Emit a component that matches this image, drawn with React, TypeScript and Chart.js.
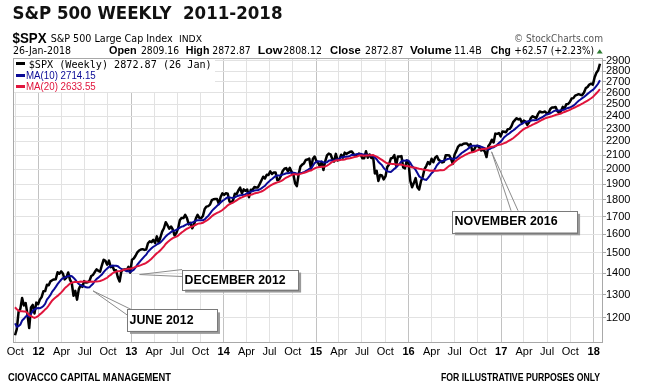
import React, { useEffect, useRef } from 'react';
import { Chart, registerables } from 'chart.js';

Chart.register(...registerables);

// ---- Weekly closes of $SPX (Friday of each week) ----
// 2011 starts early (May 20) only so the 10/20-week averages exist at the left edge.
const spx2011Start = '2011-05-20';
const spx2011 = [
  1333, 1331, 1300, 1271, 1271, 1268, 1340, 1344, 1316, 1345, 1292, 1199, 1178, 1123, 1177, 1174, 1154, 1216, 1136,
  1131, 1155, 1225, 1238, 1285, 1253, 1263, 1216, 1159, 1244, 1255, 1219, 1265, 1258,
];
const spx2012Start = '2012-01-06';
const spx2012 = [
  1278, 1289, 1315, 1316, 1345, 1343, 1361, 1366, 1370, 1371, 1404, 1397, 1408,
  1398, 1370, 1378, 1403, 1369, 1353, 1295, 1317, 1278, 1325, 1343, 1335, 1362,
  1355, 1357, 1363, 1386, 1391, 1405, 1418, 1411, 1407, 1438, 1466, 1460, 1441,
  1461, 1429, 1433, 1412, 1414, 1380, 1360, 1409, 1416, 1418, 1413, 1430, 1402,
];
const spx2013Start = '2013-01-04';
const spx2013 = [
  1466, 1472, 1486, 1503, 1513, 1518, 1520, 1516, 1518, 1551, 1561, 1557, 1569,
  1553, 1588, 1555, 1582, 1614, 1633, 1667, 1650, 1631, 1643, 1626, 1593, 1606,
  1632, 1680, 1692, 1691, 1710, 1691, 1655, 1664, 1633, 1655, 1688, 1710, 1692,
  1691, 1703, 1745, 1759, 1762, 1771, 1798, 1804, 1806, 1805, 1775, 1818, 1841,
];
const spx2014Start = '2014-01-03';
const spx2014 = [
  1831, 1842, 1839, 1790, 1783, 1797, 1838, 1836, 1859, 1878, 1841, 1866, 1857,
  1865, 1816, 1864, 1863, 1881, 1878, 1878, 1900, 1924, 1949, 1937, 1963, 1961,
  1985, 1968, 1978, 1978, 1925, 1931, 1955, 1988, 2003, 2008, 1985, 2010, 1982,
  1968, 1906, 1887, 1965, 2018, 2032, 2040, 2064, 2068, 2075, 2003, 2071, 2089,
];
const spx2015Start = '2015-01-02';
const spx2015 = [
  2058, 2045, 2019, 2051, 1995, 2055, 2097, 2110, 2105, 2071, 2053, 2108, 2061,
  2067, 2102, 2081, 2117, 2108, 2116, 2123, 2126, 2107, 2092, 2094, 2110, 2102,
  2076, 2077, 2127, 2080, 2104, 2078, 2092, 1971, 1989, 1921, 1961, 1958, 1931,
  1951, 2015, 2033, 2075, 2079, 2099, 2023, 2089, 2090, 2092, 2012, 2006, 2061, 2044,
];
const spx2016Start = '2016-01-08';
const spx2016 = [
  1922, 1880, 1907, 1940, 1880, 1865, 1918, 1948, 2000, 2022, 2050, 2035,
  2073, 2048, 2081, 2092, 2065, 2057, 2047, 2052, 2099, 2099, 2096, 2071, 2037,
  2103, 2130, 2162, 2175, 2174, 2183, 2184, 2184, 2169, 2180, 2128, 2139, 2165, 2168,
  2153, 2133, 2141, 2126, 2085, 2164, 2182, 2213, 2192, 2260, 2258, 2264, 2239,
];
const spx2017Start = '2017-01-06';
const spx2017 = [
  2277, 2275, 2271, 2295, 2297, 2316, 2351, 2367, 2383, 2373, 2378, 2344, 2363,
  2356, 2329, 2349, 2384, 2399, 2391, 2382, 2416, 2439, 2432, 2433, 2438, 2423,
  2425, 2459, 2473, 2472, 2477, 2441, 2426, 2443, 2477, 2461, 2500, 2502, 2519,
  2549, 2553, 2575, 2581, 2588, 2582, 2579, 2602, 2642, 2652, 2675, 2683, 2674,
];
const spx2018Start = '2018-01-05';
const spx2018 = [2743, 2786, 2810, 2873];

const visibleFrom = '2011-09-30';

// ---- Axis ticks ----
const yTickValues = [1200, 1300, 1400, 1500, 1600, 1700, 1800, 1900, 2000, 2100, 2200, 2300, 2400, 2500, 2600, 2700, 2800, 2900];
const xTickDates = [
  '2011-10-01',
  '2012-01-01', '2012-04-01', '2012-07-01', '2012-10-01',
  '2013-01-01', '2013-04-01', '2013-07-01', '2013-10-01',
  '2014-01-01', '2014-04-01', '2014-07-01', '2014-10-01',
  '2015-01-01', '2015-04-01', '2015-07-01', '2015-10-01',
  '2016-01-01', '2016-04-01', '2016-07-01', '2016-10-01',
  '2017-01-01', '2017-04-01', '2017-07-01', '2017-10-01',
  '2018-01-01',
];
const xTickLabels = [
  'Oct',
  '12', 'Apr', 'Jul', 'Oct',
  '13', 'Apr', 'Jul', 'Oct',
  '14', 'Apr', 'Jul', 'Oct',
  '15', 'Apr', 'Jul', 'Oct',
  '16', 'Apr', 'Jul', 'Oct',
  '17', 'Apr', 'Jul', 'Oct',
  '18',
];

// ---- Callout annotations (tip anchored to data, box offsets in px) ----
const callouts = [
  { text: 'JUNE 2012', tipDate: '2012-08-03', tipValue: 1317, box: [34, 18.5, 90, 21.5], legs: [[38, 18.5], [34, 24]], textW: 64 },
  { text: 'DECEMBER 2012', tipDate: '2013-02-03', tipValue: 1393, box: [42.5, -5, 116, 20], legs: [[42.5, -5], [42.5, 2]], textW: 101 },
  { text: 'NOVEMBER 2016', tipDate: '2016-11-24', tipValue: 2123, box: [-39.5, 59, 125, 21.5], legs: [[19.5, 59], [26.5, 59]], textW: 103 },
];

const DAY = 86400000;
const dayNum = (s: string) => {
  const [y, m, d] = s.split('-').map(Number);
  return Date.UTC(y, m - 1, d) / DAY;
};

function buildSeries() {
  const blocks: [string, number[]][] = [
    [spx2011Start, spx2011], [spx2012Start, spx2012], [spx2013Start, spx2013], [spx2014Start, spx2014],
    [spx2015Start, spx2015], [spx2016Start, spx2016], [spx2017Start, spx2017], [spx2018Start, spx2018],
  ];
  const xs: number[] = [];
  const cs: number[] = [];
  blocks.forEach(([start, arr]) => {
    const s = dayNum(start);
    arr.forEach((v, i) => { xs.push(s + 7 * i); cs.push(v); });
  });
  const movingAvg = (n: number) => cs.map((_, i) => {
    if (i < n - 1) return null;
    let sum = 0;
    for (let k = i - n + 1; k <= i; k++) sum += cs[k];
    return sum / n;
  });
  const ma10 = movingAvg(10);
  const ma20 = movingAvg(20);
  const from = dayNum(visibleFrom);
  const price: { x: number; y: number }[] = [];
  const m10: { x: number; y: number }[] = [];
  const m20: { x: number; y: number }[] = [];
  xs.forEach((x, i) => {
    if (x < from) return;
    price.push({ x, y: cs[i] });
    m10.push({ x, y: ma10[i] as number });
    m20.push({ x, y: ma20[i] as number });
  });
  return { price, m10, m20 };
}

function fitText(ctx: CanvasRenderingContext2D, text: string, x: number, y: number, w: number, font: string, color: string) {
  ctx.save();
  ctx.font = font;
  ctx.fillStyle = color;
  ctx.textAlign = 'left';
  ctx.textBaseline = 'alphabetic';
  const m = ctx.measureText(text).width || 1;
  ctx.translate(x, y);
  ctx.scale(w / m, 1);
  ctx.fillText(text, 0, 0);
  ctx.restore();
}

const SANS = '"Liberation Sans", Arial, sans-serif';
const DJ = '"DejaVu Sans", sans-serif';

const decorPlugin = {
  id: 'decor',
  beforeDraw(chart: any) {
    const ctx = chart.ctx;
    ctx.save();
    ctx.fillStyle = '#ffffff';
    ctx.fillRect(0, 0, chart.width, chart.height);
    ctx.restore();
  },
  afterDraw(chart: any) {
    const ctx: CanvasRenderingContext2D = chart.ctx;
    const a = chart.chartArea;
    const xs = chart.scales.x;
    const ys = chart.scales.y;

    // Title
    fitText(ctx, 'S&P 500 WEEKLY  2011-2018', 12.5, 18.5, 270, `bold 17px ${DJ}`, '#111');
    // Symbol line
    fitText(ctx, '$SPX', 12.5, 43.3, 34, `bold 14px ${SANS}`, '#000');
    fitText(ctx, 'S&P 500 Large Cap Index', 50.7, 42, 122, `10px ${DJ}`, '#000');
    fitText(ctx, 'INDX', 179, 42, 23, `9px ${DJ}`, '#000');
    fitText(ctx, '© StockCharts.com', 514, 41.5, 89, `11px ${DJ}`, '#555');
    // Quote line
    fitText(ctx, '26-Jan-2018', 13, 54.3, 58, `10px ${DJ}`, '#000');
    const q: [string, number, number, boolean][] = [
      ['Open', 109, 27.7, true], ['2809.16', 141, 38, false],
      ['High', 185.7, 23.7, true], ['2872.87', 212.3, 38.4, false],
      ['Low', 257.7, 24.6, true], ['2808.12', 283.3, 38.5, false],
      ['Close', 330, 30.7, true], ['2872.87', 365, 38.3, false],
      ['Volume', 410, 41.7, true], ['11.4B', 454, 27.7, false],
      ['Chg', 490.7, 20, true], ['+62.57 (+2.23%)', 514.3, 79.7, false],
    ];
    q.forEach(([t, x, w, b]) => fitText(ctx, t, x, 54.3, w, b ? `bold 11px ${SANS}` : `10px ${DJ}`, '#000'));
    // green up triangle
    ctx.save();
    ctx.fillStyle = '#2e7d32';
    ctx.beginPath();
    ctx.moveTo(596.7, 53.5);
    ctx.lineTo(602.7, 53.5);
    ctx.lineTo(599.7, 49.3);
    ctx.closePath();
    ctx.fill();
    ctx.restore();

    // Legend box
    ctx.save();
    ctx.fillStyle = '#ffffff';
    ctx.fillRect(a.left, a.top, 202, 34);
    ctx.lineWidth = 3;
    ctx.strokeStyle = '#000';
    ctx.beginPath(); ctx.moveTo(16, 63.5); ctx.lineTo(25, 63.5); ctx.stroke();
    ctx.strokeStyle = '#0a0a96';
    ctx.beginPath(); ctx.moveTo(16, 75.5); ctx.lineTo(25, 75.5); ctx.stroke();
    ctx.strokeStyle = '#e0143c';
    ctx.beginPath(); ctx.moveTo(16, 86.5); ctx.lineTo(25, 86.5); ctx.stroke();
    ctx.restore();
    fitText(ctx, '$SPX (Weekly) 2872.87 (26 Jan)', 28.7, 67.5, 183, `10px "DejaVu Sans Mono", monospace`, '#000');
    fitText(ctx, 'MA(10) 2714.15', 26, 79, 69.7, `10px ${SANS}`, '#0a0a96');
    fitText(ctx, 'MA(20) 2633.55', 26, 90, 69.7, `10px ${SANS}`, '#e0143c');

    // Plot border
    ctx.save();
    ctx.strokeStyle = '#a8a8a8';
    ctx.lineWidth = 1;
    ctx.strokeRect(Math.round(a.left) + 0.5, Math.round(a.top) + 0.5, Math.round(a.right - a.left) - 1, Math.round(a.bottom - a.top));
    ctx.restore();

    // Callouts
    callouts.forEach((c) => {
      const tx = xs.getPixelForValue(dayNum(c.tipDate));
      const ty = ys.getPixelForValue(c.tipValue);
      const [bx, by, bw, bh] = c.box;
      const L = tx + bx;
      const T = ty + by;
      ctx.save();
      ctx.strokeStyle = '#8c8c8c';
      ctx.lineWidth = 1;
      c.legs.forEach(([lx, ly]) => {
        ctx.beginPath();
        ctx.moveTo(tx, ty);
        ctx.lineTo(tx + lx, ty + ly);
        ctx.stroke();
      });
      ctx.fillStyle = '#9a9a9a';
      ctx.fillRect(L + 3, T + 3, bw, bh);
      ctx.fillStyle = '#ffffff';
      ctx.fillRect(L, T, bw, bh);
      ctx.strokeStyle = '#7a7a7a';
      ctx.strokeRect(Math.round(L) + 0.5, Math.round(T) + 0.5, Math.round(bw), Math.round(bh));
      ctx.restore();
      fitText(ctx, c.text, L + 2.5, T + 14.3, c.textW, `bold 13px ${SANS}`, '#000');
    });

    // Footer
    fitText(ctx, 'CIOVACCO CAPITAL MANAGEMENT', 8, 381, 163, `bold 10px ${SANS}`, '#000');
    fitText(ctx, 'FOR ILLUSTRATIVE PURPOSES ONLY', 441, 381, 159, `bold 10px ${SANS}`, '#000');
  },
};

export default function App() {
  const ref = useRef<HTMLCanvasElement | null>(null);

  useEffect(() => {
    if (!ref.current) return;
    const { price, m10, m20 } = buildSeries();
    const xTickVals = xTickDates.map(dayNum);
    const isYear = (i: number) => /^\d+$/.test(xTickLabels[i] || '');

    const chart = new Chart(ref.current, {
      type: 'line',
      data: {
        datasets: [
          { label: '$SPX', data: price, borderColor: '#000000', borderWidth: 2.5, pointRadius: 0, tension: 0, order: 3, borderJoinStyle: 'round' },
          { label: 'MA(10)', data: m10, borderColor: '#0a0a96', borderWidth: 2, pointRadius: 0, tension: 0, order: 2 },
          { label: 'MA(20)', data: m20, borderColor: '#e0143c', borderWidth: 2, pointRadius: 0, tension: 0, order: 1 },
        ],
      } as any,
      options: {
        responsive: false,
        animation: false,
        devicePixelRatio: 1,
        layout: { padding: { left: 13, top: 58, right: 0, bottom: 0 } },
        plugins: { legend: { display: false }, tooltip: { enabled: false } },
        events: [],
        scales: {
          x: {
            type: 'linear',
            min: dayNum('2011-09-22'),
            max: dayNum('2018-02-07'),
            afterBuildTicks: (axis: any) => { axis.ticks = xTickVals.map((v) => ({ value: v })); },
            afterFit: (axis: any) => { axis.height = 45; },
            grid: {
              color: (ctx: any) => (isYear(ctx.index) ? '#c2c2c2' : '#e2e2e2'),
              drawTicks: false,
              lineWidth: 1,
            },
            border: { display: false },
            ticks: {
              autoSkip: false,
              maxRotation: 0,
              minRotation: 0,
              padding: 3,
              color: '#000',
              font: (ctx: any) => ({ family: SANS, size: 11, weight: isYear(ctx.index) ? 'bold' : 'normal' }),
              callback: (_v: any, i: number) => xTickLabels[i],
            },
          },
          y: {
            type: 'logarithmic',
            position: 'right',
            min: 1105,
            max: 2930,
            afterBuildTicks: (axis: any) => { axis.ticks = yTickValues.map((v) => ({ value: v })); },
            afterFit: (axis: any) => { axis.width = 47; },
            grid: { color: '#e2e2e2', drawTicks: true, tickLength: 3, tickColor: '#a8a8a8' },
            border: { display: false },
            ticks: {
              padding: 0,
              color: '#000',
              font: { family: SANS, size: 11 },
              callback: (v: any) => String(v),
            },
          },
        },
      } as any,
      plugins: [decorPlugin],
    });
    return () => chart.destroy();
  }, []);

  return (
    <div style={{ position: 'fixed', left: 0, top: 0, width: 650, height: 387, background: '#fff' }}>
      <canvas ref={ref} width={650} height={387} style={{ width: 650, height: 387, display: 'block' }} />
    </div>
  );
}
